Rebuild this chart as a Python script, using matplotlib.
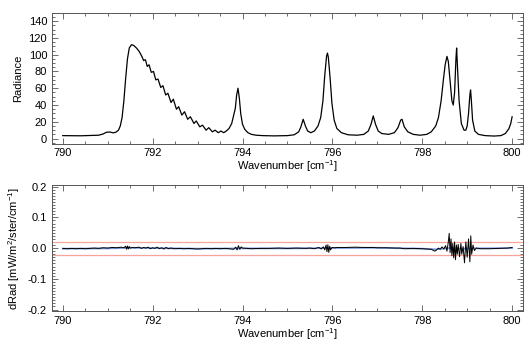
import matplotlib
matplotlib.use('Agg')
import matplotlib.pyplot as plt
from matplotlib.ticker import MultipleLocator

plt.rcParams['font.family'] = ['Liberation Sans', 'DejaVu Sans']
plt.rcParams['mathtext.fontset'] = 'custom'
plt.rcParams['mathtext.rm'] = 'Liberation Sans'

# spectrum
wn = [790.00, 790.20, 790.40, 790.60, 790.80, 790.90, 790.97, 791.05, 791.12, 791.18,
      791.24, 791.28, 791.32, 791.36, 791.40, 791.44, 791.48, 791.53, 791.58, 791.64,
      791.70, 791.76, 791.80, 791.84, 791.88, 791.92, 791.97, 792.02, 792.07, 792.12,
      792.18, 792.23, 792.29, 792.34, 792.41, 792.46, 792.53, 792.58, 792.65, 792.71,
      792.78, 792.84, 792.92, 792.97, 793.05, 793.11, 793.19, 793.25, 793.33, 793.39,
      793.46, 793.52, 793.58, 793.64, 793.70, 793.76, 793.80, 793.84, 793.87, 793.90,
      793.93, 793.96, 794.00, 794.05, 794.12, 794.20, 794.30, 794.45, 794.70, 795.00,
      795.15, 795.25, 795.30, 795.35, 795.40, 795.45, 795.52, 795.60, 795.68, 795.74,
      795.79, 795.83, 795.87, 795.89, 795.91, 795.95, 795.99, 796.04, 796.10, 796.20,
      796.35, 796.55, 796.70, 796.80, 796.86, 796.91, 796.96, 797.02, 797.10, 797.25,
      797.38, 797.46, 797.52, 797.55, 797.60, 797.68, 797.80, 797.95, 798.10, 798.20,
      798.30, 798.36, 798.42, 798.47, 798.51, 798.55, 798.58, 798.62, 798.66, 798.69,
      798.72, 798.75, 798.765, 798.78, 798.82, 798.87, 798.93, 798.97, 799.00, 799.03,
      799.06, 799.075, 799.09, 799.12, 799.17, 799.25, 799.40, 799.60, 799.75, 799.85,
      799.93, 799.97, 800.00]
radiance = [3.5, 3.4, 3.3, 3.6, 4.0, 5.5, 7.5, 7.8, 6.8, 7.5,
            10, 15, 25, 45, 72, 95, 108, 112, 111, 108,
            104, 98, 93, 94, 86, 88, 79, 80, 70, 71,
            61, 63, 52, 54, 43, 47, 35, 38, 28, 32,
            23, 26, 18, 21, 14, 16, 10, 13, 8, 10,
            7, 9, 7, 9, 12, 18, 27, 36, 52, 60,
            48, 30, 17, 11, 7, 5, 4, 3.5, 3.2, 3.5,
            4.5, 8, 14, 23, 15, 9, 7, 9, 15, 25,
            45, 75, 98, 102, 97, 72, 42, 22, 12, 7,
            4.5, 4.0, 5, 9, 17, 27, 17, 9, 6, 5,
            7, 13, 22, 23, 14, 8, 5, 4, 5, 8,
            15, 25, 45, 70, 88, 98, 92, 68, 45, 40,
            55, 95, 108, 90, 45, 18, 10, 10, 15, 30,
            52, 58, 48, 22, 9, 5, 3.5, 3, 3.5, 6,
            12, 18, 26]

# residual (black)
res_wn = [790.00, 790.10, 790.20, 790.30, 790.40, 790.50, 790.60, 790.70, 790.80, 790.90,
          791.00, 791.10, 791.20, 791.30, 791.36, 791.40, 791.42, 791.44, 791.46, 791.48,
          791.50, 791.55, 791.60, 791.70, 791.75, 791.80, 791.85, 791.90, 791.95, 792.00,
          792.05, 792.10, 792.15, 792.20, 792.25, 792.30, 792.35, 792.40, 792.50, 792.60,
          792.70, 792.80, 792.90, 793.00, 793.10, 793.20, 793.30, 793.40, 793.50, 793.60,
          793.70, 793.80, 793.85, 793.88, 793.91, 793.94, 793.97, 794.00, 794.10, 794.20,
          794.40, 794.60, 794.80, 795.00, 795.20, 795.40, 795.50, 795.60, 795.70, 795.75,
          795.80, 795.83, 795.86, 795.88, 795.90, 795.92, 795.94, 795.96, 795.99, 796.05,
          796.10, 796.30, 796.50, 796.70, 796.90, 797.00, 797.20, 797.40, 797.50, 797.60,
          797.80, 798.00, 798.20, 798.28, 798.32, 798.36, 798.40, 798.44, 798.48, 798.52,
          798.55, 798.58, 798.60, 798.62, 798.64, 798.66, 798.68, 798.70, 798.72, 798.74,
          798.76, 798.78, 798.80, 798.83, 798.86, 798.88, 798.91, 798.94, 798.97, 799.00,
          799.03, 799.06, 799.08, 799.10, 799.13, 799.16, 799.20, 799.30, 799.50, 799.70,
          799.90, 800.00]
residual = [-0.001, -0.002, -0.001, -0.002, -0.001, -0.002, -0.001, 0.000, -0.001, 0.001,
            0.000, 0.002, 0.001, 0.003, 0.001, 0.006, -0.004, 0.007, -0.003, 0.005,
            0.000, 0.002, 0.001, 0.003, -0.001, 0.002, 0.000, 0.003, -0.002, 0.001,
            -0.001, 0.003, -0.002, 0.001, -0.003, 0.002, -0.002, 0.000, -0.002, -0.001,
            -0.002, -0.001, -0.002, -0.003, -0.002, -0.001, -0.002, -0.001, -0.002, -0.001,
            -0.002, -0.004, 0.003, -0.006, 0.008, -0.004, 0.004, 0.000, -0.001, -0.002,
            -0.001, -0.001, 0.000, -0.001, 0.000, -0.001, 0.000, -0.002, 0.002, -0.003,
            0.004, -0.006, 0.010, -0.012, 0.011, -0.014, 0.006, -0.006, 0.002, 0.001,
            0.002, 0.002, 0.003, 0.002, 0.002, 0.001, 0.001, 0.000, 0.000, -0.002,
            -0.001, -0.002, -0.004, -0.010, -0.006, 0.000, -0.004, 0.004, -0.003, 0.008,
            -0.010, 0.020, 0.048, -0.015, 0.030, -0.025, 0.015, -0.032, 0.020, -0.038,
            0.010, -0.020, 0.012, -0.028, 0.015, -0.020, 0.005, -0.048, 0.020, -0.030,
            0.030, -0.045, 0.040, -0.020, 0.010, -0.008, 0.000, -0.002, -0.002, -0.001,
            0.000, 0.002]

# smoothed residual (blue)
smooth_wn = [790.0, 791.0, 791.5, 792.0, 793.0, 794.0, 795.0, 795.9, 797.0, 798.0,
             798.3, 798.6, 798.9, 799.2, 800.0]
smooth_res = [-0.002, -0.001, 0.001, 0.000, -0.002, -0.001, -0.001, 0.000, 0.001, -0.002,
              -0.004, 0.000, -0.002, -0.001, 0.000]

noise_level = [0.02, -0.021]

fig = plt.figure(figsize=(5.25, 3.46), dpi=100)
ax1 = fig.add_axes([0.099, 0.585, 0.897, 0.378])
ax2 = fig.add_axes([0.099, 0.101, 0.897, 0.364])

ax1.plot(wn, radiance, color='black', lw=0.9)
ax1.set_ylim(-6, 150)
ax1.set_ylabel('Radiance', fontsize=8)
ax1.yaxis.set_major_locator(MultipleLocator(20))
ax1.yaxis.set_minor_locator(MultipleLocator(5))

for y in noise_level:
    ax2.axhline(y, color='#f5a59a', lw=0.9)
ax2.plot(smooth_wn, smooth_res, color='#7b9be0', lw=1.3)
ax2.plot(res_wn, residual, color='black', lw=0.7)
ax2.set_ylim(-0.205, 0.205)
ax2.set_ylabel('dRad [mW/m$^2$/ster/cm$^{-1}$]', fontsize=8)
ax2.yaxis.set_major_locator(MultipleLocator(0.1))
ax2.yaxis.set_minor_locator(MultipleLocator(0.01))
ax2.yaxis.set_major_formatter(plt.FuncFormatter(lambda v, p: '%.1f' % v))

for ax in (ax1, ax2):
    ax.set_xlim(789.76, 800.24)
    ax.xaxis.set_major_locator(MultipleLocator(2))
    ax.xaxis.set_minor_locator(MultipleLocator(0.5))
    ax.set_xlabel('Wavenumber [cm$^{-1}$]', fontsize=8, labelpad=0)
    ax.tick_params(which='both', direction='in', top=True, right=True,
                   labelsize=8, color='#555555', width=0.6)
    ax.tick_params(which='major', length=4)
    ax.tick_params(which='minor', length=2)
    for s in ax.spines.values():
        s.set_color('#555555')
        s.set_linewidth(0.7)

fig.savefig('out.png', dpi=100)
